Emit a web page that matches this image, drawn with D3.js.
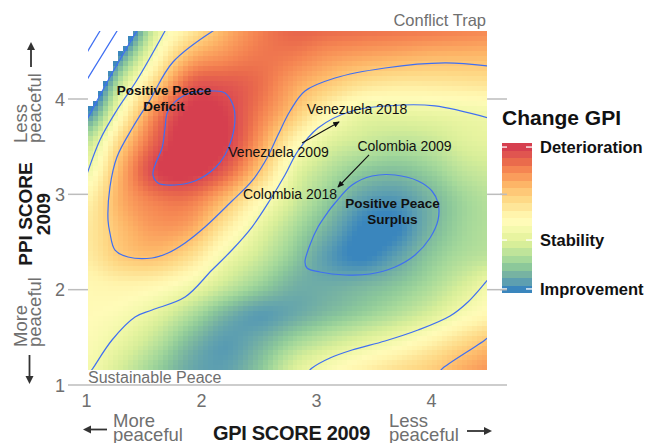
<!DOCTYPE html>
<html><head><meta charset="utf-8">
<script src="https://cdn.jsdelivr.net/npm/d3@7"></script>
<style>
html,body{margin:0;padding:0;background:#fff;}
svg{display:block;font-family:"Liberation Sans",Arial,sans-serif;}
</style></head><body>
<svg id="chart" width="663" height="443"></svg>
<script>
// ---------- data ----------
const gpiTicks = [1, 2, 3, 4];
const ppiTicks = [1, 2, 3, 4];
// grid nodes (GPI on x, PPI on y)
const gridGPI = [1.0, 1.3, 1.6, 1.9, 2.2, 2.5, 2.8, 3.1, 3.4, 3.7, 4.0, 4.3, 4.6];
const gridPPI = [1.15, 1.45, 1.75, 2.05, 2.35, 2.65, 2.95, 3.25, 3.55, 3.85, 4.15, 4.45, 4.75];
// relative change in GPI (0 = improvement, 1 = deterioration), rows bottom -> top; negative = no data
const changeGrid = [
  [0.43, 0.32, 0.20, 0.10, 0.08, 0.17, 0.34, 0.45, 0.53, 0.60, 0.66, 0.75, 0.80],
  [0.46, 0.38, 0.27, 0.14, 0.07, 0.12, 0.22, 0.30, 0.37, 0.44, 0.53, 0.63, 0.71],
  [0.48, 0.45, 0.37, 0.25, 0.13, 0.07, 0.10, 0.15, 0.20, 0.26, 0.34, 0.45, 0.52],
  [0.50, 0.52, 0.50, 0.42, 0.30, 0.20, 0.12, 0.11, 0.13, 0.17, 0.24, 0.34, 0.45],
  [0.55, 0.66, 0.69, 0.60, 0.42, 0.30, 0.18, 0.07, 0.02, 0.08, 0.18, 0.25, 0.28],
  [0.56, 0.70, 0.78, 0.75, 0.56, 0.38, 0.24, 0.12, 0.02, 0.02, 0.13, 0.22, 0.26],
  [0.52, 0.74, 0.84, 0.85, 0.71, 0.50, 0.32, 0.19, 0.08, 0.06, 0.13, 0.22, 0.27],
  [0.40, 0.73, 0.96, 1.00, 0.90, 0.68, 0.39, 0.26, 0.18, 0.155, 0.20, 0.28, 0.31],
  [0.27, 0.64, 0.90, 1.02, 0.98, 0.78, 0.52, 0.36, 0.30, 0.27, 0.29, 0.35, 0.37],
  [0.02, 0.47, 0.82, 0.99, 0.97, 0.84, 0.68, 0.50, 0.39, 0.38, 0.39, 0.405, 0.42],
  [-0.25, 0.30, 0.64, 0.90, 0.92, 0.87, 0.76, 0.67, 0.59, 0.56, 0.56, 0.57, 0.58],
  [-0.50, 0.05, 0.46, 0.72, 0.80, 0.85, 0.84, 0.79, 0.76, 0.74, 0.72, 0.715, 0.71],
  [-0.80, -0.23, 0.33, 0.55, 0.72, 0.83, 0.89, 0.88, 0.87, 0.86, 0.85, 0.835, 0.82]
];
const heatGPI = [1.013, 4.483];
const heatPPI = [1.157, 4.713];
// legend bands, bottom (improvement) -> top (deterioration)
const bandColors = ["#3a86bd","#5d9fb0","#77b3a2","#8cc89a","#a6d99a","#bfe49a","#d7ee99","#e8f4a0","#f4f9ad","#fffbb8",
                    "#fff4ac","#fee699","#fed986","#fec877","#fdb567","#fa9d5c","#f58552","#ea6b4c","#e05550","#d63f4f"];
const legendLabels = ["Improvement", "Stability", "Deterioration"];
const legendStops = [0.027, 0.353, 0.973];
// contour lines (GPI, PPI)
const contourL1 = [[0.99,4.46],[1.13,4.74]];
const contourL2 = [[0.99,4.175],[1.13,4.45],[1.28,4.742]];
const contourL3 = [[0.99,3.75],[1.204,4.231],[1.45,4.74]];
const contourL4 = [[0.99,3.16],[1.117,3.570],[1.265,3.885],[1.439,4.199],[1.69,4.73]];
const contourU = [[2.12,4.73],[1.752,4.388],[1.552,3.990],[1.404,3.706],[1.265,3.392],[1.204,3.077],[1.187,2.731],[1.204,2.594],
  [1.248,2.416],[1.361,2.343],[1.570,2.332],[1.709,2.385],[1.857,2.490],[2.030,2.657],[2.265,2.930],[2.439,3.140],[2.570,3.381],
  [2.665,3.622],[2.770,3.874],[2.900,4.084],[3.161,4.220],[3.596,4.325],[4.117,4.378],[4.50,4.345]];
const contourC = [[1.04,1.15],[1.057,1.178],[1.222,1.472],[1.422,1.713],[1.570,1.787],[1.857,1.923],[2.091,2.206],[2.265,2.416],
  [2.439,2.657],[2.596,2.941],[2.726,3.203],[2.839,3.455],[3.013,3.696],[3.309,3.874],[3.743,3.937],[4.030,3.927],[4.50,3.80]];
const contourBR = [[2.93,1.14],[2.961,1.178],[3.117,1.283],[3.309,1.367],[3.596,1.462],[3.883,1.577],[4.161,1.724],[4.317,1.871],[4.465,2.070],[4.50,2.12]];
const contourCorner = [[4.07,1.14],[4.100,1.178],[4.465,1.472],[4.50,1.51]];
const contourDeficit = [[2.117,4.084],[1.857,4.042],[1.709,3.874],[1.683,3.696],[1.657,3.486],[1.596,3.308],[1.578,3.203],[1.622,3.119],
  [1.770,3.098],[1.943,3.140],[2.117,3.276],[2.204,3.413],[2.265,3.591],[2.291,3.801],[2.274,3.937],[2.204,4.063]];
const contourSurplus = [[2.900,2.290],[2.943,2.469],[3.013,2.657],[3.100,2.815],[3.161,2.909],[3.309,3.098],[3.483,3.192],[3.683,3.203],
  [3.883,3.140],[4.004,3.035],[4.057,2.909],[4.057,2.731],[3.987,2.542],[3.857,2.364],[3.683,2.238],[3.465,2.164],[3.248,2.154],[3.030,2.185],[2.917,2.227]];
// country movements 2009 -> 2018
const countries = ["Venezuela", "Colombia"];
const from2009 = [[2.874, 3.539], [3.457, 3.413]];
const to2018 = [[3.196, 3.759], [3.187, 3.077]];

// ---------- scales ----------
const svg = d3.select("#chart");
const x = d3.scaleLinear().domain([1, 4]).range([86.5, 431.5]);
const y = d3.scaleLinear().domain([1, 4]).range([385, 99]);
const color = d3.scaleLinear()
  .domain(bandColors.map((c, i) => (i + 0.5) / bandColors.length))
  .range(bandColors).interpolate(d3.interpolateRgb).clamp(true);

// bicubic sampling of the grid
function cub(p0, p1, p2, p3, t) {
  return p1 + 0.5 * t * (p2 - p0 + t * (2 * p0 - 5 * p1 + 4 * p2 - p3 + t * (3 * (p1 - p2) + p3 - p0)));
}
function sample(gx, gy) {
  const sx = gridGPI[1] - gridGPI[0], sy = gridPPI[1] - gridPPI[0];
  const fx = (gx - gridGPI[0]) / sx, fy = (gy - gridPPI[0]) / sy;
  const i = Math.floor(fx), j = Math.floor(fy), tx = fx - i, ty = fy - j;
  const nc = gridGPI.length, nr = gridPPI.length;
  const g = (r, c) => changeGrid[Math.max(0, Math.min(nr - 1, r))][Math.max(0, Math.min(nc - 1, c))];
  const rows = [];
  for (let k = -1; k <= 2; k++) rows.push(cub(g(j + k, i - 1), g(j + k, i), g(j + k, i + 1), g(j + k, i + 2), tx));
  return cub(rows[0], rows[1], rows[2], rows[3], ty);
}

// ---------- heatmap ----------
const nCols = 80, nRows = 68;
const dw = (heatGPI[1] - heatGPI[0]) / nCols, dh = (heatPPI[1] - heatPPI[0]) / nRows;
const cells = [];
for (let c = 0; c < nCols; c++) for (let r = 0; r < nRows; r++) {
  const g0 = heatGPI[0] + c * dw, p0 = heatPPI[0] + r * dh;
  const v = sample(g0 + dw / 2, p0 + dh / 2);
  if (v >= 0) cells.push({g0, p0, v});
}
svg.append("g").attr("shape-rendering", "crispEdges").selectAll("rect").data(cells).join("rect")
  .attr("x", d => x(d.g0)).attr("y", d => y(d.p0 + dh))
  .attr("width", d => x(d.g0 + dw) - x(d.g0) + 0.4).attr("height", d => y(d.p0) - y(d.p0 + dh) + 0.4)
  .attr("fill", d => color(d.v));

// ---------- contours ----------
svg.append("clipPath").attr("id", "plotclip").append("rect")
  .attr("x", x(heatGPI[0])).attr("y", y(heatPPI[1]))
  .attr("width", x(heatGPI[1]) - x(heatGPI[0])).attr("height", y(heatPPI[0]) - y(heatPPI[1]));
const lineOpen = d3.line().x(d => x(d[0])).y(d => y(d[1])).curve(d3.curveCatmullRom.alpha(0.5));
const lineClosed = d3.line().x(d => x(d[0])).y(d => y(d[1])).curve(d3.curveCatmullRomClosed.alpha(0.5));
const cg = svg.append("g").attr("clip-path", "url(#plotclip)").attr("fill", "none")
  .attr("stroke", "#3f6ff2").attr("stroke-width", 1.2);
[contourL1, contourL2, contourL3, contourL4, contourU, contourC, contourBR, contourCorner]
  .forEach(p => cg.append("path").attr("d", lineOpen(p)));
[contourDeficit, contourSurplus].forEach(p => cg.append("path").attr("d", lineClosed(p)));

// ---------- axes ----------
const gray = "#bdbdbd", tgray = "#6f6f6f";
const ax = svg.append("g");
ax.append("line").attr("x1", 68).attr("x2", 507).attr("y1", y(1)).attr("y2", y(1))
  .attr("stroke", gray).attr("stroke-width", 1.5);
ppiTicks.filter(v => v > 1).forEach(v => {
  ax.append("line").attr("x1", 68).attr("x2", x(heatGPI[0])).attr("y1", y(v)).attr("y2", y(v)).attr("stroke", gray).attr("stroke-width", 1.5);
  ax.append("line").attr("x1", x(heatGPI[1])).attr("x2", 507).attr("y1", y(v)).attr("y2", y(v)).attr("stroke", gray).attr("stroke-width", 1.5);
});
ax.selectAll("text.yt").data(ppiTicks).join("text").attr("class", "yt")
  .attr("x", 65).attr("y", d => y(d) + 6.5).attr("text-anchor", "end")
  .attr("font-size", 18).attr("fill", tgray).text(d => d);
ax.selectAll("text.xt").data(gpiTicks).join("text").attr("class", "xt")
  .attr("x", d => x(d)).attr("y", 407).attr("text-anchor", "middle")
  .attr("font-size", 18).attr("fill", tgray).text(d => d);

svg.append("text").attr("x", 486).attr("y", 26).attr("text-anchor", "end")
  .attr("font-size", 16.5).attr("fill", tgray).text("Conflict Trap");
svg.append("text").attr("x", 88).attr("y", 383).attr("font-size", 16)
  .attr("fill", tgray).text("Sustainable Peace");

// axis titles
svg.append("text").attr("x", 291.5).attr("y", 440).attr("text-anchor", "middle")
  .attr("font-size", 20).attr("font-weight", 700).attr("fill", "#1a1a1a").attr("letter-spacing", -0.3)
  .text("GPI SCORE 2009");
svg.append("text").attr("transform", "translate(32,214) rotate(-90)").attr("text-anchor", "middle")
  .attr("font-size", 19).attr("font-weight", 700).attr("fill", "#1a1a1a").text("PPI SCORE");
svg.append("text").attr("transform", "translate(50,214) rotate(-90)").attr("text-anchor", "middle")
  .attr("font-size", 19).attr("font-weight", 700).attr("fill", "#1a1a1a").text("2009");

// direction hints
function hint(tx, ty, rot, lines, anchor) {
  const t = svg.append("text").attr("transform", `translate(${tx},${ty}) rotate(${rot})`)
    .attr("font-size", 18.5).attr("fill", tgray).attr("text-anchor", anchor);
  lines.forEach((l, i) => t.append("tspan").attr("x", 0).attr("y", i * 14).text(l));
}
hint(113, 427, 0, ["More", "peaceful"], "start");
hint(389, 427, 0, ["Less", "peaceful"], "start");
hint(27, 143, -90, ["Less", "peaceful"], "start");
hint(27, 347, -90, ["More", "peaceful"], "start");
function arrow(x1, y1, x2, y2) {
  const a = Math.atan2(y2 - y1, x2 - x1), L = 8, W = 4;
  const bx = x2 - L * Math.cos(a), by = y2 - L * Math.sin(a);
  svg.append("line").attr("x1", x1).attr("y1", y1).attr("x2", bx).attr("y2", by)
    .attr("stroke", "#333").attr("stroke-width", 1.8);
  svg.append("path").attr("fill", "#333").attr("d",
    `M${x2},${y2}L${bx - W * Math.sin(a)},${by + W * Math.cos(a)}L${bx + W * Math.sin(a)},${by - W * Math.cos(a)}Z`);
}
arrow(107, 429.5, 83, 429.5);
arrow(467, 431, 492, 431);
arrow(31, 67, 31, 42);
arrow(29.5, 355, 29.5, 384);

// ---------- annotations ----------
const ann = svg.append("g");
ann.append("text").attr("text-anchor", "middle").attr("font-size", 13.5).attr("font-weight", 700).attr("fill", "#111")
  .selectAll("tspan").data(["Positive Peace", "Deficit"]).join("tspan")
  .attr("x", 164).attr("y", (d, i) => 95 + i * 16).text(d => d);
ann.append("text").attr("text-anchor", "middle").attr("font-size", 13.5).attr("font-weight", 700).attr("fill", "#111")
  .selectAll("tspan").data(["Positive Peace", "Surplus"]).join("tspan")
  .attr("x", 392.5).attr("y", (d, i) => 208 + i * 16).text(d => d);
svg.append("defs").append("marker").attr("id", "ah").attr("viewBox", "0 0 8 8").attr("refX", 7).attr("refY", 4)
  .attr("markerWidth", 6).attr("markerHeight", 6).attr("orient", "auto")
  .append("path").attr("d", "M0,0.5L8,4L0,7.5Z").attr("fill", "#111");
const labelOff2009 = [[-23.5, 14], [35.5, -4]];
const labelOff2018 = [[18, -8], [-48, 12]];
countries.forEach((c, i) => {
  const s = from2009[i], e = to2018[i];
  ann.append("line").attr("x1", x(s[0])).attr("y1", y(s[1])).attr("x2", x(e[0])).attr("y2", y(e[1]))
    .attr("stroke", "#111").attr("stroke-width", 1.1).attr("marker-end", "url(#ah)");
  ann.append("text").attr("x", x(s[0]) + labelOff2009[i][0]).attr("y", y(s[1]) + labelOff2009[i][1])
    .attr("text-anchor", "middle").attr("font-size", 14).attr("fill", "#111").text(c + " 2009");
  ann.append("text").attr("x", x(e[0]) + labelOff2018[i][0]).attr("y", y(e[1]) + labelOff2018[i][1])
    .attr("text-anchor", "middle").attr("font-size", 14).attr("fill", "#111").text(c + " 2018");
});

// ---------- legend ----------
const leg = svg.append("g");
const ly = d3.scaleLinear().domain([0, 1]).range([293, 143]);
leg.append("text").attr("x", 502).attr("y", 125).attr("font-size", 21).attr("font-weight", 700)
  .attr("fill", "#111").text("Change GPI");
leg.append("g").attr("shape-rendering", "crispEdges").selectAll("rect").data(bandColors).join("rect")
  .attr("x", 502).attr("width", 30)
  .attr("y", (d, i) => ly((i + 1) / bandColors.length)).attr("height", (d, i) => ly(i / bandColors.length) - ly((i + 1) / bandColors.length))
  .attr("fill", d => d);
legendStops.forEach((t, i) => {
  leg.append("line").attr("x1", 502).attr("x2", 507).attr("y1", ly(t)).attr("y2", ly(t)).attr("stroke", "#fff").attr("stroke-width", 1.3);
  leg.append("line").attr("x1", 526).attr("x2", 532).attr("y1", ly(t)).attr("y2", ly(t)).attr("stroke", "#fff").attr("stroke-width", 1.3);
  leg.append("text").attr("x", 540).attr("y", ly(t) + 6).attr("font-size", 16.5).attr("font-weight", 700)
    .attr("fill", "#111").text(legendLabels[i]);
});
// right tick extensions overlapping legend bar
ppiTicks.filter(v => v > 1 && v < 4).forEach(v => {
  leg.append("line").attr("x1", 500).attr("x2", 507).attr("y1", y(v)).attr("y2", y(v)).attr("stroke", gray).attr("stroke-width", 1.5);
});
</script>
</body></html>
